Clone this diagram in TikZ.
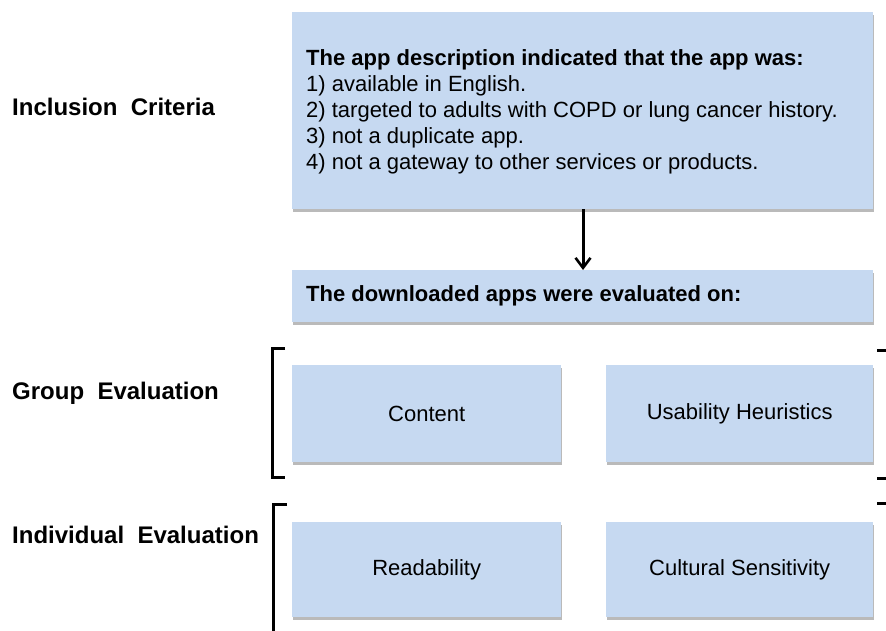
\documentclass[tikz,border=0pt]{standalone}
\usepackage{fontspec}
\setmainfont{Liberation Sans}
\usetikzlibrary{arrows.meta,shadows}
\definecolor{boxblue}{HTML}{C6D9F1}
\tikzset{
  bluebox/.style={fill=boxblue, draw=none, inner sep=0pt, anchor=north west,
    drop shadow={shadow xshift=1pt, shadow yshift=-2.5pt, fill=black!45, opacity=0.6}},
  sidelabel/.style={anchor=west, inner sep=0pt, font=\fontsize{24}{28}\selectfont\bfseries},
  boxtext/.style={font=\fontsize{22}{26}\selectfont},
  bracketline/.style={line width=3pt, line cap=butt},
}
\begin{document}
\begin{tikzpicture}[x=1pt,y=-1pt]
\useasboundingbox (0,0) rectangle (886,631);
% boxes
\node[bluebox, minimum width=581pt, minimum height=197pt] (crit) at (292,12) {};
\node[anchor=west, inner sep=0pt, align=left, font=\fontsize{22}{26}\selectfont] (crittext) at (306,112)
  {\textbf{The app description indicated that the app was:}\\
   1) available in English.\\
   2) targeted to adults with COPD or lung cancer history.\\
   3) not a duplicate app.\\
   4) not a gateway to other services or products.};
\node[bluebox, minimum width=581pt, minimum height=52pt] (eval) at (292,270) {};
\node[anchor=west, inner sep=0pt, font=\fontsize{22}{26}\selectfont\bfseries] (evaltext) at (306,296)
  {The downloaded apps were evaluated on:};
\node[bluebox, minimum width=269pt, minimum height=97pt] (content) at (292,365) {};
\node[bluebox, minimum width=267pt, minimum height=97pt] (usab) at (606,365) {};
\node[bluebox, minimum width=269pt, minimum height=95pt] (read) at (292,522) {};
\node[bluebox, minimum width=267pt, minimum height=95pt] (cult) at (606,522) {};
\node[boxtext] (contentlbl) at (content.center) {Content};
\node[boxtext] (usablbl) at (usab.center) {Usability Heuristics};
\node[boxtext] (readlbl) at (read.center) {Readability};
\node[boxtext] (cultlbl) at (cult.center) {Cultural Sensitivity};
% arrow
\draw[line width=3pt, -{Straight Barb[length=10pt,width=15pt,line width=2.6pt]}] (crit.south -| 583,0) -- (eval.north -| 583,0);
% side labels
\node[sidelabel] (incl) at (12,107) {Inclusion\ \ Criteria};
\node[sidelabel] (group) at (12,393) {Group\ \ Evaluation};
\node[sidelabel] (indiv) at (12,535) {Individual\ \ Evaluation};
% brackets
\draw[bracketline] (285,348) -- (272,348) -- (272,477) -- (285,477);
\draw[bracketline] (287,504) -- (273,504) -- (273,640);
\draw[bracketline] (877,350) -- (890,350);
\draw[bracketline] (877,478) -- (890,478);
\draw[bracketline] (877,503) -- (890,503);
\end{tikzpicture}
\end{document}
